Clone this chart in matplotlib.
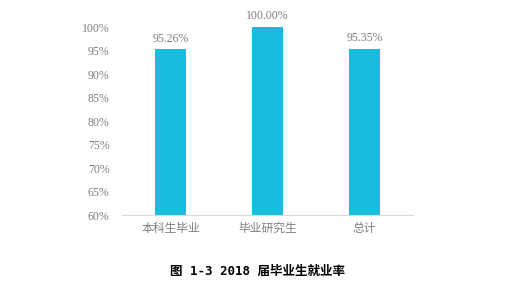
import matplotlib.pyplot as plt

GRAY = '#7F7F7F'; BAR = '#17BDDF'
CJK = ['Noto Sans CJK SC', 'DejaVu Sans']
CAP = ['DejaVu Sans Mono', 'Noto Sans CJK SC']
NUM = 'Liberation Serif'

categories = ['本科生毕业', '毕业研究生', '总计']
rates = [95.26, 100.00, 95.35]
yticks = [60, 65, 70, 75, 80, 85, 90, 95, 100]

fig = plt.figure(figsize=(5.15, 2.85), dpi=100, facecolor='white')
ax = fig.add_axes([0.237, 0.2456, 0.565, 0.6595])
x = range(len(categories))
ax.bar(x, rates, width=0.32, color=BAR)
for i, v in zip(x, rates):
    ax.text(i, v + 1.0, f'{v:.2f}%', ha='center', va='bottom',
            fontsize=8.5, fontfamily=NUM, color=GRAY)

ax.set_ylim(60, 100)
ax.set_xlim(-0.5, 2.5)
ax.set_yticks(yticks)
ax.set_yticklabels([f'{t}%' for t in yticks], fontfamily=NUM, fontsize=8.5, color=GRAY)
ax.set_xticks(list(x))
ax.set_xticklabels(categories, fontfamily=CJK, fontsize=8.5, color=GRAY)
ax.tick_params(axis='both', length=0)
ax.tick_params(axis='y', pad=9)
ax.tick_params(axis='x', pad=5)
for sp in ['top', 'right', 'left']:
    ax.spines[sp].set_visible(False)
ax.spines['bottom'].set_color('#D9D9D9')
ax.spines['bottom'].set_linewidth(0.8)

fig.text(0.5, 1 - 271 / 285, '图 1-3 2018 届毕业生就业率', ha='center', va='center',
         fontsize=9, fontweight='bold', fontfamily=CAP, color='black')

fig.savefig('out.png', dpi=100, facecolor='white')
plt.close()
